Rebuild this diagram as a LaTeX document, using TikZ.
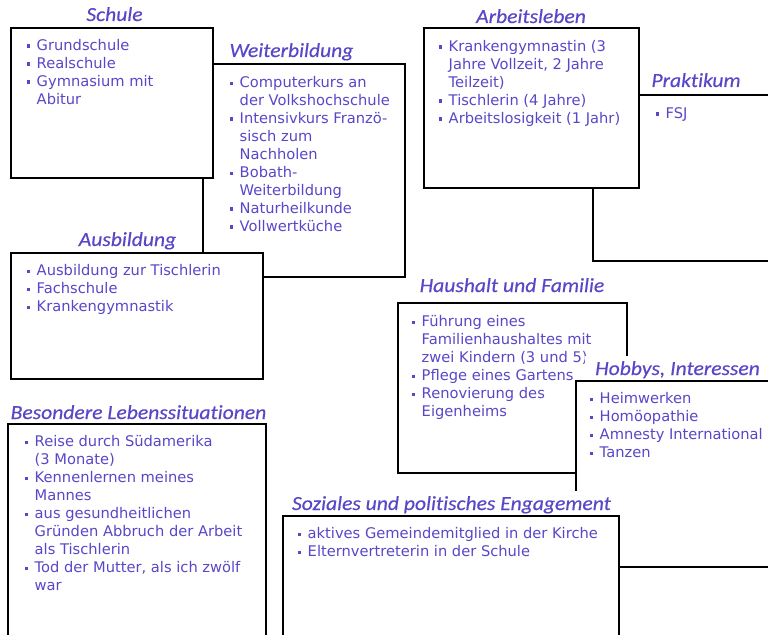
\documentclass[tikz,border=0pt]{standalone}
\usepackage{fontspec}
\setmainfont{DejaVu Sans}
\newfontfamily\ttlfont{Carlito}[FakeStretch=1.08, FakeBold=0.4, Ligatures=NoCommon]
\definecolor{ink}{RGB}{88,72,200}
\newcommand\bodyfont{\fontsize{11}{13.5}\selectfont}
\newcommand\bul{\makebox[7.3pt][l]{\textcolor{ink}{\rule[1.9pt]{2.3pt}{2.3pt}}}}
\newcommand\cnt{\hspace*{7.3pt}}
\newcommand\panel[5]{\node[box, minimum width={(#4-#2)*0.75pt}, minimum height={(#5-#3)*0.75pt}] (#1) at (#2,#3) {};}
\tikzset{
  box/.style={draw=black, fill=white, line width=1.4pt, anchor=north west, inner sep=0pt, outer sep=0pt},
  items/.style={anchor=north west, inner sep=0pt, outer sep=0pt, text=ink, font=\bodyfont},
  ttl/.style={anchor=base, fill=white, inner xsep=7.5pt, inner ysep=4pt, text=ink, font={\ttlfont\itshape\fontsize{15}{17}\selectfont}}
}
\begin{document}
\begin{tikzpicture}[x=0.75pt, y=-0.75pt]
\useasboundingbox (0,0) rectangle (768,635);
\clip (0,0) rectangle (768,635);
% Weiterbildung
\node[ttl] (t-wb) at (291.5,57) {Weiterbildung};
\panel{wb}{203}{64}{405}{277}
\node[items] (i-wb) at (230,74.5) {\begin{tabular}{@{}l@{}}
\bul Computerkurs an\\ \cnt der Volkshochschule\\ \bul Intensivkurs Franzö-\\ \cnt sisch zum\\ \cnt Nachholen\\ \bul Bobath-\\ \cnt Weiterbildung\\ \bul Naturheilkunde\\ \bul Vollwertküche
\end{tabular}};
% Schule
\node[ttl] (t-sch) at (114.5,21) {Schule};
\panel{sch}{11}{28}{213}{178}
\node[items] (i-sch) at (27,37.5) {\begin{tabular}{@{}l@{}}
\bul Grundschule\\ \bul Realschule\\ \bul Gymnasium mit\\ \cnt Abitur
\end{tabular}};
% Ausbildung
\node[ttl] (t-ab) at (127.5,246) {Ausbildung};
\panel{ab}{11}{253}{263}{379}
\node[items] (i-ab) at (27,262.5) {\begin{tabular}{@{}l@{}}
\bul Ausbildung zur Tischlerin\\ \bul Fachschule\\ \bul Krankengymnastik
\end{tabular}};
% Praktikum
\node[ttl] (t-pr) at (696,87) {Praktikum};
\panel{pr}{593}{95}{790}{261}
\node[items] (i-pr) at (656,105.5) {\begin{tabular}{@{}l@{}}
\bul FSJ
\end{tabular}};
% Arbeitsleben
\node[ttl] (t-al) at (531,23) {Arbeitsleben};
\panel{al}{424}{28}{639}{188}
\node[items] (i-al) at (439,38.5) {\begin{tabular}{@{}l@{}}
\bul Krankengymnastin (3\\ \cnt Jahre Vollzeit, 2 Jahre\\ \cnt Teilzeit)\\ \bul Tischlerin (4 Jahre)\\ \bul Arbeitslosigkeit (1 Jahr)
\end{tabular}};
% Haushalt und Familie
\node[ttl] (t-hf) at (512,292) {Haushalt und Familie};
\panel{hf}{398}{303}{627}{473}
\node[items] (i-hf) at (412,313.5) {\begin{tabular}{@{}l@{}}
\bul Führung eines\\ \cnt Familienhaushaltes mit\\ \cnt zwei Kindern (3 und 5)\\ \bul Pflege eines Gartens\\ \bul Renovierung des\\ \cnt Eigenheims
\end{tabular}};
% Hobbys, Interessen
\node[ttl] (t-hi) at (677.5,375) {Hobbys, Interessen};
\panel{hi}{576}{381}{790}{567}
\node[items] (i-hi) at (590,390.5) {\begin{tabular}{@{}l@{}}
\bul Heimwerken\\ \bul Homöopathie\\ \bul Amnesty International\\ \bul Tanzen
\end{tabular}};
% Soziales und politisches Engagement
\node[ttl] (t-se) at (451.5,510) {Soziales und politisches Engagement};
\panel{se}{283}{516}{619}{660}
\node[items] (i-se) at (298,525.5) {\begin{tabular}{@{}l@{}}
\bul aktives Gemeindemitglied in der Kirche\\ \bul Elternvertreterin in der Schule
\end{tabular}};
% Besondere Lebenssituationen
\node[ttl] (t-bl) at (138.5,419) {Besondere Lebenssituationen};
\panel{bl}{8}{424}{266}{660}
\node[items] (i-bl) at (25,433.5) {\begin{tabular}{@{}l@{}}
\bul Reise durch Südamerika\\ \cnt (3 Monate)\\ \bul Kennenlernen meines\\ \cnt Mannes\\ \bul aus gesundheitlichen\\ \cnt Gründen Abbruch der Arbeit\\ \cnt als Tischlerin\\ \bul Tod der Mutter, als ich zwölf\\ \cnt war
\end{tabular}};
\end{tikzpicture}
\end{document}
